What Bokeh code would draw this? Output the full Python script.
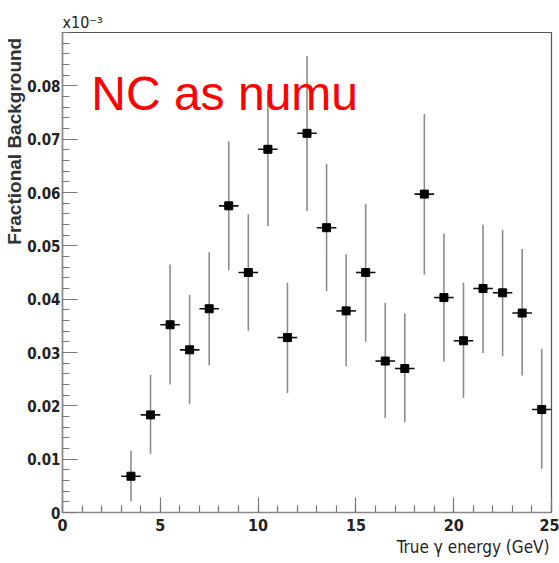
from bokeh.plotting import figure
from bokeh.models import Range1d, FixedTicker, Label, ColumnDataSource, Title
from bokeh.embed import file_html
from bokeh.resources import INLINE

# ---- data ----
energy = [3.5, 4.5, 5.5, 6.5, 7.5, 8.5, 9.5, 10.5, 11.5, 12.5, 13.5, 14.5,
          15.5, 16.5, 17.5, 18.5, 19.5, 20.5, 21.5, 22.5, 23.5, 24.5]
frac_bkg = [0.0068, 0.0183, 0.0352, 0.0305, 0.0382, 0.0575, 0.0450, 0.0681,
            0.0328, 0.0711, 0.0534, 0.0378, 0.0450, 0.0284, 0.0270, 0.0597,
            0.0403, 0.0322, 0.0420, 0.0412, 0.0374, 0.0193]
err_hi = [0.0116, 0.0258, 0.0465, 0.0408, 0.0488, 0.0696, 0.0559, 0.0792,
          0.0431, 0.0856, 0.0654, 0.0484, 0.0579, 0.0393, 0.0373, 0.0747,
          0.0523, 0.0431, 0.0540, 0.0530, 0.0494, 0.0307]
err_lo = [0.0021, 0.0110, 0.0240, 0.0204, 0.0276, 0.0454, 0.0341, 0.0537,
          0.0224, 0.0565, 0.0415, 0.0274, 0.0320, 0.0177, 0.0169, 0.0446,
          0.0283, 0.0215, 0.0299, 0.0293, 0.0257, 0.0082]
bin_half = 0.5

x_ticks = [0, 5, 10, 15, 20, 25]
x_tick_labels = ["0", "5", "10", "15", "20", "25"]
y_ticks = [0, 0.01, 0.02, 0.03, 0.04, 0.05, 0.06, 0.07, 0.08]
y_tick_labels = ["0", "0.01", "0.02", "0.03", "0.04", "0.05", "0.06", "0.07", "0.08"]

title_text = "NC as numu"
x_title = "True \u03b3 energy (GeV)"
y_title = "Fractional  Background"
scale_text = "x10\u207b\u00b3"

src = ColumnDataSource(dict(
    x=energy, y=frac_bkg, hi=err_hi, lo=err_lo,
    x0=[e - bin_half for e in energy], x1=[e + bin_half for e in energy],
))

p = figure(width=559, height=563, output_backend="svg", toolbar_location=None,
           x_range=Range1d(0, 25), y_range=Range1d(0, 0.09),
           min_border_left=62, min_border_right=8, min_border_top=32,
           min_border_bottom=51)
p.background_fill_color = "white"
p.border_fill_color = "white"
p.outline_line_color = "#555555"
p.outline_line_width = 1.2
p.xgrid.visible = False
p.ygrid.visible = False

TICK_FONT = "DejaVu Sans Condensed"

# axes
p.xaxis.ticker = FixedTicker(ticks=x_ticks, minor_ticks=list(range(0, 26)))
p.xaxis.major_label_overrides = {t: l for t, l in zip(x_ticks, x_tick_labels)}
p.yaxis.ticker = FixedTicker(ticks=y_ticks,
                             minor_ticks=[round(i * 0.002, 4) for i in range(46)])
p.yaxis.major_label_overrides = {t: l for t, l in zip(y_ticks, y_tick_labels)}

for ax in (p.xaxis[0], p.yaxis[0]):
    ax.axis_line_color = "#888888"
    ax.axis_line_width = 1.5
    ax.major_tick_in = 15
    ax.major_tick_out = 0
    ax.minor_tick_in = 7
    ax.minor_tick_out = 0
    ax.major_tick_line_color = "#777777"
    ax.minor_tick_line_color = "#777777"
    ax.major_tick_line_width = 1.2
    ax.minor_tick_line_width = 1.2
    ax.major_label_text_font = TICK_FONT
    ax.major_label_text_font_style = "bold"
    ax.major_label_text_font_size = "16px"
    ax.major_label_text_color = "#222222"
p.yaxis.major_label_text_font_size = "15px"
p.xaxis.major_label_standoff = 6
p.yaxis.major_label_standoff = 2

# error bars and markers
p.segment(x0="x", y0="lo", x1="x", y1="hi", source=src,
          line_color="#8c8c8c", line_width=1.6)
p.segment(x0="x0", y0="y", x1="x1", y1="y", source=src,
          line_color="#111111", line_width=1.6)
p.scatter(x="x", y="y", source=src, marker="square", size=8,
          fill_color="black", line_color="black")

# texts
p.add_layout(Label(x=1.47, y=0.0786, text=title_text, text_color="#ff0000",
                   text_font="Liberation Sans", text_font_size="48px",
                   text_baseline="alphabetic", text_align="left"))
p.add_layout(Title(text=x_title, align="right", text_color="#222222",
                   text_font=TICK_FONT, text_font_size="17px",
                   text_font_style="normal", standoff=2, offset=2), "below")
p.add_layout(Title(text=y_title, align="right", text_color="#333333",
                   text_font="Liberation Sans", text_font_size="19px",
                   text_font_style="bold", standoff=0, offset=0), "left")
p.add_layout(Title(text=scale_text, align="left", text_color="#222222",
                   text_font=TICK_FONT, text_font_size="16px",
                   text_font_style="normal", standoff=1, offset=0), "above")

open("out.html", "w").write(file_html(p, INLINE))
